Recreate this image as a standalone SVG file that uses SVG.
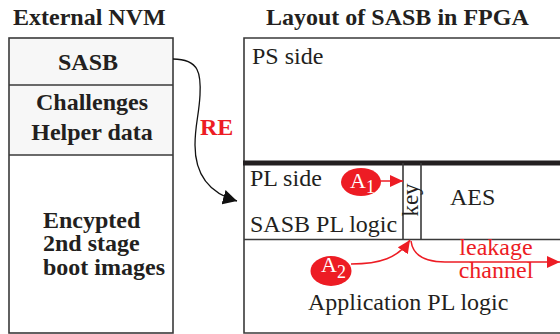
<svg xmlns="http://www.w3.org/2000/svg" width="560" height="334" viewBox="0 0 560 334">
<defs>
<style>
.t{font-family:"Liberation Serif","Times New Roman",serif;font-size:24px;fill:#231f20}
.b{font-weight:bold}
.r{fill:#ed1c24}
.ln{stroke:#3a3a3a;stroke-width:1.6;fill:none}
.w{font-family:"Liberation Serif","Times New Roman",serif;fill:#fff}
</style>
<marker id="ab" markerUnits="userSpaceOnUse" markerWidth="15" markerHeight="15" refX="14" refY="7.5" orient="auto" viewBox="0 0 15 15"><path d="M0,0 L14,7.5 L0,15 z" fill="#111"/></marker>
<marker id="ar" markerUnits="userSpaceOnUse" markerWidth="13" markerHeight="12" refX="13" refY="6" orient="auto" viewBox="0 0 13 12"><path d="M0,0 L13,6 L0,12 z" fill="#ed1c24"/></marker>
</defs>
<rect width="560" height="334" fill="#fff"/>
<text class="t b" x="13" y="25">External NVM</text>
<text class="t b" x="266" y="25">Layout of SASB in FPGA</text>
<g id="nvm">
<rect x="9" y="38" width="164" height="117" fill="#f7f7f7"/>
<rect x="9" y="38" width="164" height="295" class="ln"/>
<line x1="9" y1="85" x2="173" y2="85" class="ln"/>
<line x1="9" y1="155" x2="173" y2="155" class="ln"/>
<text class="t b" x="88" y="70" text-anchor="middle">SASB</text>
<text class="t b" x="92" y="110" text-anchor="middle">Challenges</text>
<text class="t b" x="92" y="140" text-anchor="middle">Helper data</text>
<text class="t b" x="43" y="228">Encypted</text>
<text class="t b" x="43" y="251">2nd stage</text>
<text class="t b" x="43" y="275">boot images</text>
</g>
<g id="fpga">
<path d="M560,38 L244,38 L244,333 L560,333" class="ln"/>
<line x1="243" y1="163" x2="560" y2="163" stroke="#231f20" stroke-width="5"/>
<line x1="244" y1="239.5" x2="560" y2="239.5" class="ln"/>
<text class="t" x="252" y="64">PS side</text>
</g>
<g id="pl-side">
<text class="t" x="250" y="186">PL side</text>
<text class="t" x="250" y="232">SASB PL logic</text>
</g>
<g id="key">
<line x1="403" y1="163" x2="403" y2="239.5" class="ln"/>
<line x1="421" y1="163" x2="421" y2="239.5" class="ln"/>
<text class="t" transform="translate(417.5,200) rotate(-90)" text-anchor="middle" style="font-size:23px">key</text>
</g>
<g id="aes"><text class="t" x="450" y="205">AES</text></g>
<g id="app"><text class="t" x="308" y="310">Application PL logic</text></g>
<g id="a1">
<ellipse cx="361" cy="182" rx="20" ry="14" fill="#ed1c24"/>
<text class="w" x="350" y="188" style="font-size:22px">A<tspan dy="5" style="font-size:18px">1</tspan></text>
</g>
<g id="a2">
<ellipse cx="331" cy="271" rx="20.5" ry="15" fill="#ed1c24"/>
<text class="w" x="321" y="272" style="font-size:22px">A<tspan dy="6" style="font-size:18px">2</tspan></text>
</g>
<g id="connectors">
<path d="M173,59 C200,59 201,75 200,95 C199,115 195,125 195,145 C195,170 205,192 237,201" fill="none" stroke="#111" stroke-width="1.3" marker-end="url(#ab)"/>
<text class="t b r" x="200" y="135">RE</text>
<path d="M380,181 L403,181" fill="none" stroke="#ed1c24" stroke-width="1.5" marker-end="url(#ar)"/>
<path d="M351,264 C380,264 398,258 410,240" fill="none" stroke="#ed1c24" stroke-width="1.5" marker-end="url(#ar)"/>
<path d="M411,241 C413,256 425,262 445,262 L560,262" fill="none" stroke="#ed1c24" stroke-width="1.5" marker-end="url(#ar)"/>
<text class="t r" x="496" y="255" text-anchor="middle">leakage</text>
<text class="t r" x="496" y="278" text-anchor="middle">channel</text>
</g>
</svg>
